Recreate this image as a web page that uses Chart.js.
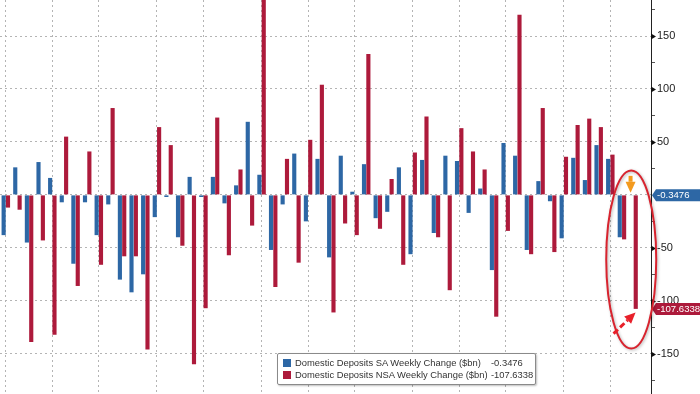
<!DOCTYPE html>
<html>
<head>
<meta charset="utf-8">
<script src="https://cdn.jsdelivr.net/npm/chart.js@4"></script>
<style>
  html, body { margin: 0; padding: 0; background: #fff; }
  #wrap { position: relative; width: 700px; height: 394px; }
  #legend {
    position: absolute; left: 277px; top: 353px; width: 257px; height: 30px;
    background: #fff; border: 1px solid #8a8a8a; border-radius: 2px;
    box-shadow: 1px 1px 2px rgba(0,0,0,0.25);
    font: 9.4px "Liberation Sans", Arial, sans-serif; color: #333;
  }
  #legend .row { position: absolute; left: 0; height: 12px; line-height: 12px; white-space: nowrap; }
  #legend .sw { position: absolute; left: 5px; top: 2px; width: 8px; height: 8px; }
  #legend .lbl { position: absolute; left: 17px; }
  #legend .val { position: absolute; left: 213px; }
</style>
</head>
<body>
<div id="wrap">
  <canvas id="chart"></canvas>
  <div id="legend"></div>
</div>
<script>
// weekly changes, $bn (last slot is empty space before the axis)
const weeks = Array.from({ length: 56 }, (_, i) => 'W' + (i + 1));
const saChange = [
  -38, 26, -45, 31, 16, -7, -65, -7, -38, -9,
  -80, -92, -75, -21, -2, -40, 17, -2, 17, -8,
  9, 69, 19, -52, -9, 39, -25, 34, -59, 37,
  3, 29, -22, -16, 26, -56, 33, -36, 37, 32,
  -17, 6, -71, 49, 37, -52, 13, -6, -41, 35,
  14, 47, 34, -40, -0.3476, null
];
const nsaChange = [
  -12, -14, -139, -43, -132, 55, -86, 41, -66, 82,
  -58, -58, -146, 64, 47, -48, -160, -107, 73, -57,
  24, -29, 210, -87, 34, -64, 52, 104, -111, -27,
  -38, 133, -32, 15, -66, 40, 74, -40, -90, 63,
  41, 24, -115, -34, 170, -56, 82, -54, 36, 66,
  72, 64, 38, -42, -107.6338, null
];
const monthStarts = [0, 4, 8, 13, 17, 22, 26, 30, 35, 39, 43, 48, 52];
const yTicks = [-175, -150, -125, -100, -75, -50, -25, 0, 25, 50, 75, 100, 125, 150, 175];
const seriesNames = ['Domestic Deposits SA Weekly Change ($bn)', 'Domestic Deposits NSA Weekly Change ($bn)'];
const lastValues = ['-0.3476', '-107.6338'];

const BLUE = '#2d67a5';
const RED = '#ad1a3b';
const GRID = '#b4b4b4';

// legend box
const legend = document.getElementById('legend');
[BLUE, RED].forEach((c, i) => {
  const row = document.createElement('div');
  row.className = 'row';
  row.style.top = (3 + i * 12) + 'px';
  row.innerHTML = '<span class="sw" style="background:' + c + '"></span>' +
    '<span class="lbl">' + seriesNames[i] + '</span>' +
    '<span class="val">' + lastValues[i] + '</span>';
  legend.appendChild(row);
});

function arrow(ctx, x1, y1, x2, y2, shaft, head, color, dashed) {
  const a = Math.atan2(y2 - y1, x2 - x1);
  const hx = x2 - Math.cos(a) * head * 1.1, hy = y2 - Math.sin(a) * head * 1.1;
  ctx.save();
  ctx.strokeStyle = color;
  ctx.fillStyle = color;
  ctx.lineWidth = shaft;
  if (dashed) ctx.setLineDash([6, 3]);
  ctx.beginPath();
  ctx.moveTo(x1, y1);
  ctx.lineTo(hx, hy);
  ctx.stroke();
  ctx.setLineDash([]);
  ctx.beginPath();
  ctx.moveTo(x2, y2);
  ctx.lineTo(hx + Math.cos(a + Math.PI / 2) * head / 2, hy + Math.sin(a + Math.PI / 2) * head / 2);
  ctx.lineTo(hx + Math.cos(a - Math.PI / 2) * head / 2, hy + Math.sin(a - Math.PI / 2) * head / 2);
  ctx.closePath();
  ctx.fill();
  ctx.restore();
}

const overlay = {
  id: 'overlay',
  afterDraw(chart) {
    const ctx = chart.ctx;
    const xs = chart.scales.x, ys = chart.scales.y;
    const axisX = ys.left;

    // major tick triangles
    ctx.save();
    ctx.fillStyle = '#111';
    yTicks.filter(v => v % 50 === 0 && v !== 0).forEach(v => {
      const y = Math.round(ys.getPixelForValue(v)) + 0.5;
      ctx.beginPath();
      ctx.moveTo(axisX, y - 3);
      ctx.lineTo(axisX + 5, y);
      ctx.lineTo(axisX, y + 3);
      ctx.closePath();
      ctx.fill();
    });
    ctx.restore();

    // last value tags on the axis
    const tags = [[saChange[54], lastValues[0], BLUE], [nsaChange[54], lastValues[1], RED]];
    ctx.save();
    ctx.font = '9.6px "Liberation Sans", Arial, sans-serif';
    ctx.textBaseline = 'middle';
    tags.forEach(([v, txt, c]) => {
      const y = ys.getPixelForValue(v);
      ctx.fillStyle = c;
      ctx.beginPath();
      ctx.moveTo(axisX + 1, y);
      ctx.lineTo(axisX + 5, y - 6);
      ctx.lineTo(700, y - 6);
      ctx.lineTo(700, y + 6);
      ctx.lineTo(axisX + 5, y + 6);
      ctx.closePath();
      ctx.fill();
      ctx.fillStyle = '#fff';
      ctx.fillText(txt, axisX + 6, y + 0.5);
    });
    ctx.restore();

    // annotation: ellipse around the last two weeks
    const cx = xs.getPixelForValue(53.8);
    const yTop = ys.getPixelForValue(23), yBot = ys.getPixelForValue(-145);
    ctx.save();
    ctx.shadowColor = 'rgba(0,0,0,0.3)';
    ctx.shadowBlur = 3;
    ctx.shadowOffsetX = 1;
    ctx.shadowOffsetY = 1;
    ctx.strokeStyle = '#d8232e';
    ctx.lineWidth = 2;
    ctx.beginPath();
    ctx.ellipse(cx, (yTop + yBot) / 2, 25, (yBot - yTop) / 2, 0, 0, Math.PI * 2);
    ctx.stroke();
    ctx.restore();

    const x54 = xs.getPixelForValue(54);
    arrow(ctx, x54 - 3, ys.getPixelForValue(18), x54 - 3, ys.getPixelForValue(2), 4, 10, '#f39a1e', false);
    arrow(ctx, x54 - 20, ys.getPixelForValue(-131), x54 + 2, ys.getPixelForValue(-111), 3, 10, '#e8202a', true);
  }
};

function noPad(axis) {
  axis.paddingTop = 0;
  axis.paddingBottom = 0;
  axis.paddingLeft = 0;
  axis.paddingRight = 0;
}

new Chart(document.getElementById('chart'), {
  type: 'bar',
  data: {
    labels: weeks,
    datasets: [
      { label: seriesNames[0], data: saChange, backgroundColor: BLUE, borderWidth: 0 },
      { label: seriesNames[1], data: nsaChange, backgroundColor: RED, borderWidth: 0 },
    ]
  },
  options: {
    responsive: true,
    maintainAspectRatio: false,
    animation: false,
    layout: { padding: 0 },
    datasets: { bar: { categoryPercentage: 0.75, barPercentage: 0.95 } },
    plugins: { legend: { display: false }, tooltip: { enabled: false } },
    scales: {
      x: {
        offset: true,
        ticks: { display: false },
        border: { display: false, dash: [2, 3] },
        grid: {
          offset: false,
          drawTicks: false,
          color: ctx => monthStarts.includes(ctx.index) ? GRID : 'transparent',
        },
        afterFit: axis => { axis.height = 0; noPad(axis); },
      },
      y: {
        position: 'right',
        min: -188,
        max: 184,
        afterBuildTicks: axis => { axis.ticks = yTicks.map(v => ({ value: v })); },
        afterFit: axis => { axis.width = 49; noPad(axis); },
        border: { display: true, color: '#222', width: 1, dash: [2, 3] },
        grid: {
          color: ctx => ctx.tick && ctx.tick.value % 50 === 0 ? GRID : 'transparent',
          tickColor: ctx => ctx.tick && ctx.tick.value % 50 !== 0 ? '#555' : 'transparent',
          tickBorderDash: [],
          tickLength: 4,
        },
        ticks: {
          padding: 2,
          color: '#222',
          font: { family: '"Liberation Sans", Arial, sans-serif', size: 11 },
          callback: v => (v % 50 === 0 && v !== 0) ? String(v) : '',
        },
      },
    },
  },
  plugins: [overlay],
});
</script>
</body>
</html>
